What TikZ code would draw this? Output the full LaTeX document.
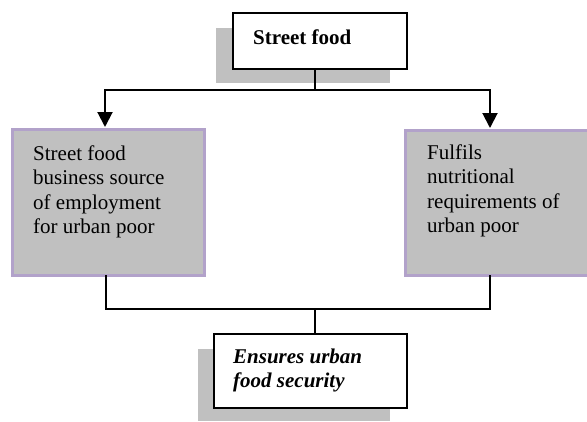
\documentclass[tikz,border=0pt]{standalone}
\usepackage{fontspec}
\setmainfont{Liberation Serif}
\usetikzlibrary{arrows.meta}
\definecolor{boxgrey}{HTML}{C0C0C0}
\definecolor{purpleedge}{HTML}{B2A2CA}
\definecolor{darkshadow}{HTML}{A09AA8}
\tikzset{
  whitebox/.style={draw=black, line width=2pt, fill=white, rectangle, anchor=north west, inner sep=0pt},
  greybox/.style={draw=purpleedge, line width=2.5pt, fill=boxgrey, rectangle, anchor=north west, inner sep=0pt},
  flatshadow/.style={fill=boxgrey, draw=none},
  deepshadow/.style={fill=darkshadow, draw=none},
  label/.style={anchor=north west, inner sep=0pt, align=left, font=\fontsize{21}{24.3}\selectfont},
  conn/.style={line width=2pt, draw=black},
  arr/.style={conn, -{Triangle[width=15pt,length=15pt]}}
}
\begin{document}
\begin{tikzpicture}[x=1pt,y=-1pt]
\useasboundingbox (0,0) rectangle (587,421);
% shadows
\fill[flatshadow] (216,28) rectangle (390,83);
\fill[flatshadow] (198,349) rectangle (390,421);
\fill[deepshadow] (14,131) rectangle (206,277);
\fill[deepshadow] (407,132) rectangle (603,277);
% boxes
\node[whitebox, minimum width=174pt, minimum height=56pt] (top) at (232,12) {};
\node[greybox, minimum width=192pt, minimum height=146pt] (lb) at (11,128) {};
\node[greybox, minimum width=196pt, minimum height=145pt] (rb) at (404,129) {};
\node[whitebox, minimum width=193pt, minimum height=74pt] (bot) at (213,333) {};
% texts
\node[label, font=\fontsize{21}{24.3}\selectfont\bfseries] (toptext) at (253,29.5) {Street food};
\node[label] (lbtext) at (33,145.7) {Street food\\business source\\of employment\\for urban poor};
\node[label] (rbtext) at (427,144.7) {Fulfils\\nutritional\\requirements of\\urban poor};
\node[label, font=\fontsize{21}{24.3}\selectfont\bfseries\itshape] (bottext) at (233,348.7) {Ensures urban\\food security};
% connector coordinates
\coordinate (jt) at (315,90);
\coordinate (la) at (105,127);
\coordinate (ra) at (490,128);
\coordinate (lo) at (106,275);
\coordinate (ro) at (490,275);
\coordinate (jb) at (315,309);
% connectors
\draw[conn] (top.south -| jt) -- (jt);
\draw[arr] (jt) -| (la);
\draw[arr] (jt) -| (ra);
\draw[conn] (lo) |- (jb) -| (ro);
\draw[conn] (jb) -- (bot.north -| jb);
\end{tikzpicture}
\end{document}
